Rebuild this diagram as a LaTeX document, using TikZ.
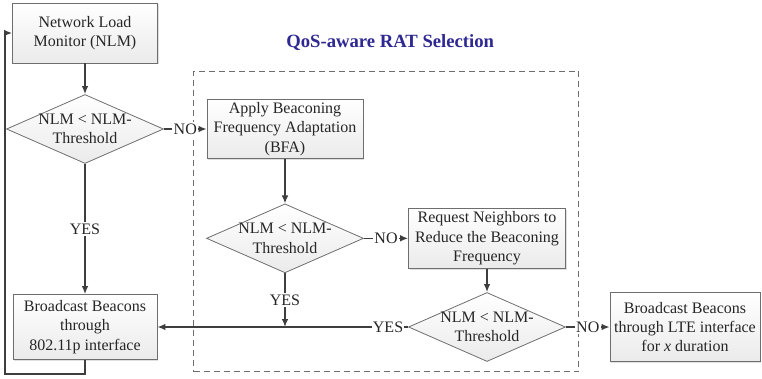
\documentclass[tikz,border=0pt]{standalone}
\usepackage{fontspec}
\setmainfont{Liberation Serif}
\usetikzlibrary{arrows.meta,positioning,shapes.geometric,fit,calc,shadows}
\definecolor{linegray}{RGB}{62,62,62}
\definecolor{boxgray}{RGB}{110,110,110}
\definecolor{qosblue}{RGB}{46,40,146}

\begin{document}
\begin{tikzpicture}[on grid, >={Latex[length=6pt,width=5pt]},
    every node/.style={font=\fontsize{12}{14.5}\selectfont, text=black!85},
    box/.style={rectangle, draw=boxgray, line width=0.6pt, top color=white, bottom color=gray!16,
      align=center, inner sep=1pt, drop shadow={shadow xshift=1pt, shadow yshift=-1pt, opacity=0.25}},
    decision/.style={diamond, draw=boxgray, line width=0.6pt, top color=white, bottom color=gray!16,
      minimum width=117.75pt, minimum height=51.75pt, inner sep=0pt},
    test/.style={align=center, inner sep=0pt},
    yn/.style={fill=white, inner sep=1pt},
    flow/.style={color=linegray, line width=1.1pt}]
   \useasboundingbox (-63.75pt,24.75pt) rectangle (507.75pt,-258.75pt);
   \node[box, minimum width=108.75pt, minimum height=45pt] (nlm) {Network Load\\Monitor (NLM)};
   \node[decision, below=72pt of nlm, label={[test]center:{NLM < NLM-\\Threshold}}] (d1) {};
   \node[box, below=148.5pt of d1, minimum width=108pt, minimum height=48.75pt] (bcast) {Broadcast Beacons\\through\\802.11p interface};
   \node[box, right=150pt of d1, minimum width=117pt, minimum height=44.25pt] (bfa) {Apply Beaconing\\Frequency Adaptation\\(BFA)};
   \node[decision, below=82pt of bfa, label={[test]center:{NLM < NLM-\\Threshold}}] (d2) {};
   \node[box, right=151.5pt of d2, minimum width=117.75pt, minimum height=45pt] (req) {Request Neighbors to\\Reduce the Beaconing\\Frequency};
   \node[decision, below=66.5pt of req, label={[test]center:{NLM < NLM-\\Threshold}}] (d3) {};
   \node[box, right=148.5pt of d3, minimum width=112.5pt, minimum height=51.75pt] (lte) {Broadcast Beacons\\through LTE interface\\for \textit{x} duration};
   \coordinate (join) at (d2 |- d3);

   % dashed frame round the RAT selection part
   \node[draw=boxgray, line width=0.7pt, dash pattern=on 4.5pt off 3pt, inner sep=0pt,
     fit={($(bfa.north west)+(-9.75pt,21pt)$) ($(req.east |- d3.south)+(9.75pt,-7.5pt)$)}] (qos) {};
   \node[above=11.25pt of qos.north, xshift=3pt, font=\bfseries\fontsize{14}{16}\selectfont, text=qosblue] (title) {QoS-aware RAT Selection};

    \path[flow,->]
    (nlm) edge (d1)
    (d1) edge node[yn] {NO} (bfa)
         edge node[yn] {YES} (bcast)
    (bfa) edge (d2)
    (d2) edge node[yn] {NO} (req)
         edge node[yn] {YES} (join)
    (req) edge (d3)
    (d3) edge node[yn, pos=0.08] {YES} (bcast)
         edge node[yn] {NO} (lte);
   \draw[flow,->] (bcast.south) -- ++(0,-10.5pt) -- ++(-60pt,0) |- (nlm.west);
\end{tikzpicture}
\end{document}
